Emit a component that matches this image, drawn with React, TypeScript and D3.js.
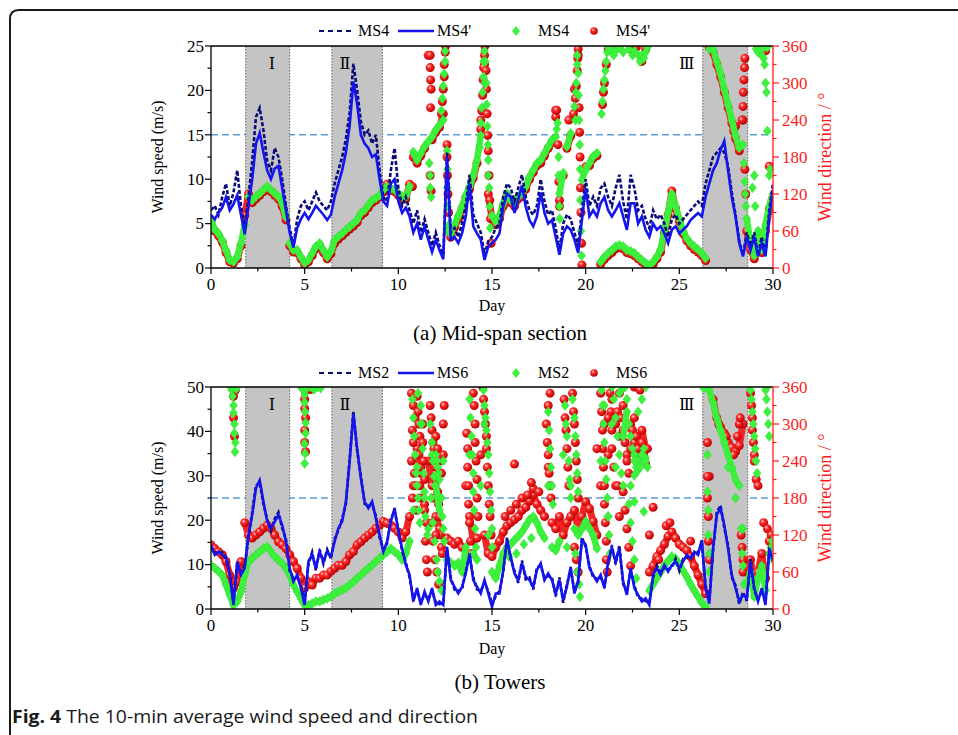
import React from 'react';
import * as d3 from 'd3';

// ---------------- data (10-min averages sampled every 0.2 day) ----------------
const DAYS: number[] = d3.range(151).map((i) => Math.round(i * 2) / 10);

// (a) Mid-span section — wind speed (m/s)
const SPEED_MS4 = [
  6.5, 7, 6, 8, 9.5, 7, 8.5, 11, 7, 4.5,
  8, 12, 17, 18, 15.5, 12, 11, 13.5, 12.5, 10,
  7, 4.5, 2.5, 5.5, 7, 7.5, 6.5, 7.5, 8.5, 7.5,
  7, 6.5, 7.5, 9.5, 11, 12.5, 14.5, 17.5, 23, 20,
  16.5, 15, 15.5, 14, 15, 11, 8, 7.5, 11, 13.5,
  9, 7, 8, 6.5, 5, 6.5, 4, 5.5, 4, 2.5,
  4, 2.5, 1.5, 13, 4, 4.5, 3.5, 5, 7, 10.5,
  6, 5, 4, 1.5, 3, 3.5, 4.5, 5, 8, 9.5,
  9, 7.5, 9, 10.5, 8, 6.5, 6, 7, 10, 7.5,
  6, 6.5, 4.5, 2, 5, 6, 5.5, 4, 2.5, 6.5,
  10, 7, 8, 7, 9, 9.5, 8, 7, 9, 10.5,
  7.5, 5.5, 10.5, 9, 6.5, 7, 5.5, 4.5, 6.5, 5.5,
  6, 5, 3.5, 5.5, 6, 5, 5.5, 6, 6.5, 7,
  7.5, 7, 9.5, 11, 12.5, 13, 13.5, 13, 11.5, 8.5,
  6, 3, 1.5, 4, 2.5, 4, 1.5, 3.5, 1.5, 6.5,
  9.5,
];
const SPEED_MS4P = [
  6, 5.5, 6.2, 6.8, 8, 6.5, 7.2, 8.2, 6, 3.8,
  7, 10, 14, 15.2, 13, 11, 10, 11.2, 11.5, 9,
  6.5, 4, 2.3, 4.5, 5.5, 6.2, 5.5, 6.2, 7, 6.5,
  6, 5.4, 6, 8, 9.5, 11, 13, 16, 21, 18.5,
  15, 14, 13.5, 12.5, 12.8, 10, 7.5, 7, 9.5, 10,
  7.5, 6.2, 6.8, 5.8, 4, 5, 3.2, 4.7, 3.2, 1.8,
  3.2, 2, 1, 12.5, 3.2, 3.5, 2.8, 3.9, 5.8, 9.5,
  4.7, 3.9, 3.2, 0.9, 2.4, 2.8, 3.2, 3.9, 6.9, 8.4,
  8, 6.2, 7.7, 9.3, 6.9, 5.4, 4.7, 5.8, 8.5, 6.2,
  5, 5.4, 3.5, 1.5, 3.9, 4.7, 4.3, 3.2, 1.7, 5.4,
  9, 5.8, 6.5, 5.8, 7.3, 8, 6.5, 5.8, 6.5, 7.3,
  5.8, 4.3, 7.3, 7.3, 5, 5.8, 4.3, 3.5, 5, 4.3,
  4.7, 3.9, 2.8, 4.3, 4.7, 3.9, 4.3, 4.7, 5.4, 5.8,
  6.2, 5.8, 8, 9.5, 11, 11.8, 13.3, 14.3, 11, 8,
  5.8, 2.8, 1.3, 3.5, 2, 3.5, 1.3, 2.8, 1.3, 5.8,
  8.8,
];
// (a) wind direction (deg)
const DIR_MS4 = [
  78, 62, 56, 45, 29, 13, 10, 18, 40, 70,
  116, 110, 116, 121, 127, 132, 127, 121, 116, 105,
  83, 40, 29, 29, 18, 8, 13, 24, 35, 40,
  29, 18, 27, 45, 51, 56, 62, 67, 72, 78,
  89, 94, 102, 110, 113, 118, 127, 132, 129, 127,
  121, 116, 116, 132, 188, 175, 186, 197, 205, 213,
  224, 232, 240, 60, 56, 70, 85, 100, 118, 132,
  150, 175, 215, 300, 150, 85, 75, 85, 105, 121,
  110, 105, 116, 121, 132, 148, 159, 170, 175, 186,
  197, 208, 213, 121, 154, 197, 218, 262, 316, 143,
  159, 170, 181, 186, 10, 18, 24, 29, 35, 37,
  35, 29, 27, 24, 18, 13, 8, 4, 10, 18,
  30, 60, 90, 120, 100, 80, 60, 48, 40, 35,
  30, 24, 16, 355, 355, 335, 315, 290, 265, 240,
  215, 195, 200, 80, 40, 20, 60, 30, 70, 100,
  120,
];
const DIR_MS4P = [
  75, 60, 52, 42, 25, 10, 8, 15, 36, 85,
  120, 106, 112, 118, 124, 128, 124, 118, 112, 100,
  78, 36, 26, 25, 15, 5, 10, 20, 31, 36,
  25, 15, 23, 40, 47, 52, 58, 63, 68, 74,
  85, 90, 98, 106, 110, 115, 123, 136, 126, 124,
  118, 112, 112, 136, 180, 170, 182, 194, 345, 208,
  220, 228, 250, 200, 50, 66, 80, 96, 114, 128,
  146, 170, 240, 330, 120, 80, 70, 80, 100, 116,
  106, 100, 112, 116, 128, 144, 155, 166, 170, 182,
  194, 204, 256, 100, 150, 194, 214, 290, 345, 5,
  164, 166, 178, 182, 6, 14, 20, 25, 31, 33,
  31, 25, 23, 20, 15, 10, 5, 2, 6, 15,
  26, 56, 86, 125, 96, 76, 56, 44, 36, 30,
  26, 20, 12, 358, 350, 330, 310, 285, 260, 235,
  210, 190, 240, 60, 30, 15, 50, 25, 60, 95,
  115,
];
// extra (day, deg) samples where the direction wraps around 0/360
const DIR_MS4_EXTRA: [number, number][] = [
  [11.65, 170], [11.7, 150], [11.7, 130], [11.75, 115], [12.3, 255], [12.35, 275], [12.4, 295], [12.45, 315],
  [12.5, 335], [12.5, 352], [12.6, 190], [12.62, 160], [12.62, 130], [12.65, 100], [12.7, 70], [14.35, 195],
  [14.4, 235], [14.45, 260], [14.5, 285], [14.55, 310], [14.55, 335], [14.6, 352], [14.65, 335], [14.7, 300],
  [14.72, 265], [14.75, 230], [14.78, 200], [14.8, 175], [14.85, 130], [14.88, 100], [14.9, 65], [18.45, 225],
  [18.5, 235], [18.55, 180], [18.55, 150], [18.6, 100], [18.62, 80], [19.45, 240], [19.48, 285], [19.5, 300],
  [19.55, 330], [19.55, 345], [19.62, 280], [19.65, 240], [19.68, 200], [19.7, 160], [19.72, 110], [19.75, 60],
  [19.78, 20], [20.85, 250], [20.9, 270], [20.95, 290], [21.0, 305], [21.05, 320], [21.1, 335], [21.15, 350],
  [21.2, 358], [21.3, 355], [21.4, 350], [21.5, 345], [21.6, 352], [21.8, 358], [22.0, 350], [22.3, 355],
  [22.5, 345], [22.6, 352], [22.8, 345], [22.9, 335], [23.0, 345], [23.1, 340], [23.2, 350], [23.3, 358],
  [28.45, 170], [28.5, 140], [28.52, 120], [28.55, 100], [29.1, 355], [29.2, 350], [29.3, 355], [29.4, 345],
  [29.5, 340], [29.55, 330], [29.6, 300], [29.65, 285], [29.7, 222], [29.5, 358], [29.7, 358], [29.8, 150],
  [29.85, 160], [29.9, 110], [28.9, 130], [29.0, 150], [29.05, 100],
];
const DIR_MS4P_EXTRA: [number, number][] = [
  [11.7, 345], [11.7, 325], [11.72, 305], [11.75, 290], [11.72, 260], [11.7, 150], [11.75, 125], [12.3, 250],
  [12.35, 270], [12.4, 290], [12.45, 310], [12.45, 330], [12.5, 350], [12.52, 360], [12.6, 180], [12.62, 150],
  [12.65, 120], [12.68, 90], [12.7, 60], [14.4, 225], [14.45, 255], [14.5, 280], [14.52, 305], [14.55, 325],
  [14.6, 345], [14.62, 360], [14.68, 320], [14.7, 290], [14.74, 250], [14.77, 215], [14.8, 190], [14.84, 150],
  [14.88, 110], [14.92, 80], [14.95, 40], [18.4, 245], [18.45, 256], [18.52, 200], [18.57, 140], [18.6, 110],
  [19.1, 240], [19.35, 250], [19.45, 275], [19.5, 295], [19.55, 320], [19.58, 340], [19.6, 355], [19.65, 260],
  [19.68, 220], [19.7, 180], [19.72, 130], [19.75, 90], [19.78, 40], [20.9, 265], [20.95, 285], [21.0, 300],
  [21.1, 330], [21.2, 355], [21.5, 355], [22.4, 355], [22.7, 358], [23.0, 335], [23.2, 355], [27.9, 222],
  [28.0, 230], [28.35, 240], [28.4, 262], [28.42, 285], [28.45, 305], [28.48, 325], [28.5, 340], [28.5, 160],
  [28.55, 120], [29.2, 358], [29.4, 360], [29.6, 352], [29.8, 165], [10.75, 132],
];

// (b) Towers — wind speed (m/s)
const SPEED_MS2 = [
  14, 12.8, 12.4, 12.8, 11.2, 8.2, 1.5, 10.2, 8.2, 9.8,
  16, 21.8, 27.8, 28.5, 23.5, 20.2, 17.6, 20.3, 21.8, 18.2,
  15.8, 8.6, 6.8, 7.1, 5.3, 1.4, 10.1, 12.8, 8.7, 13.4,
  10.2, 13.4, 11.3, 15.8, 17.7, 20.3, 23.6, 33.8, 44.5, 35.6,
  30, 23.7, 23.3, 23.6, 21, 16.1, 13.5, 14.7, 20.3, 22.1,
  18, 13.1, 10.5, 7.1, 2.3, 4.1, 1.5, 3.3, 2.3, 4.1,
  1.5, 1.1, 1.5, 13.4, 7.1, 4.4, 4.1, 4.4, 8.6, 11.9,
  7.1, 4.4, 4.1, 5.9, 4.1, 1.1, 2.9, 4.1, 8.2, 16.1,
  11.2, 8.6, 5.9, 10.9, 6.7, 7.1, 4.4, 9.4, 9.7, 7.1,
  7.4, 7.1, 2.9, 7.1, 1.4, 5.6, 8.9, 4.1, 5.9, 16.1,
  14, 9.8, 7.1, 6.8, 7.1, 5.3, 10.1, 14.3, 10.1, 14.3,
  5.6, 3.8, 8.6, 5.3, 2.6, 2.3, 1.8, 1.5, 7.1, 9.8,
  8.3, 9.3, 9, 9.3, 11.3, 8.6, 11.3, 11.6, 12, 12.3,
  12.8, 14.9, 5.3, 1.8, 13.1, 21.8, 23.3, 18.3, 14.3, 7.1,
  5.3, 1.1, 3.8, 1.8, 11.3, 4.1, 2.3, 4.1, 1.5, 13.1,
  11.3,
];
const SPEED_MS6 = [
  14.4, 12.2, 12.9, 12.2, 11.8, 7.7, 0.9, 10.7, 7.7, 9.2,
  16.7, 21.2, 27.2, 29, 24.2, 19.7, 18.2, 19.7, 21.2, 18.9,
  15.2, 9.2, 6.2, 7.7, 4.7, 0.9, 10.7, 12.2, 9.2, 12.9,
  10.7, 12.9, 11.8, 15.2, 18.2, 19.7, 24.2, 33.2, 44, 36.2,
  29.4, 24.2, 22.7, 24.2, 20.4, 16.7, 12.9, 15.2, 19.7, 22.7,
  17.4, 13.7, 9.9, 7.7, 1.7, 4.7, 0.9, 3.9, 1.7, 4.7,
  0.9, 1.7, 0.9, 14, 6.5, 5, 3.5, 5, 8, 12.5,
  6.5, 5, 3.5, 6.5, 3.5, 0.5, 3.5, 3.5, 8.8, 15.5,
  11.8, 8, 6.5, 10.3, 7.3, 6.5, 5, 8.8, 10.3, 6.5,
  8, 6.5, 3.5, 6.5, 2, 5, 9.5, 3.5, 6.5, 15.5,
  14.5, 9.2, 7.7, 6.2, 7.7, 4.7, 10.7, 13.7, 10.7, 13.7,
  6.2, 3.2, 9.2, 4.7, 3.2, 1.7, 2.4, 0.9, 7.7, 9.2,
  7.7, 9.9, 8.4, 9.9, 10.7, 9.2, 10.7, 12.2, 11.4, 12.9,
  12.2, 15.5, 4.7, 1.2, 13.7, 21.2, 22.7, 18.9, 13.7, 7.7,
  4.7, 1.7, 3.2, 2.4, 10.7, 4.7, 1.7, 4.7, 0.9, 13.7,
  10.7,
];
// (b) wind direction (deg)
const DIR_MS2 = [
  71, 66, 61, 55, 39, 23, 6, 12, 28, 55,
  77, 82, 88, 93, 98, 101, 93, 85, 79, 74,
  66, 55, 39, 28, 17, 6, 6, 9, 12, 12,
  15, 17, 20, 25, 28, 31, 34, 39, 44, 50,
  55, 61, 66, 71, 77, 82, 88, 93, 98, 93,
  88, 80, 90, 110, 160, 230, 300, 190, 130, 250,
  200, 160, 240, 80, 75, 70, 75, 60, 100, 250,
  90, 80, 200, 300, 120, 60, 50, 70, 90, 100,
  105, 112, 118, 125, 135, 145, 150, 140, 125, 115,
  200, 100, 95, 110, 250, 100, 200, 130, 120, 130,
  142, 131, 120, 98, 240, 330, 150, 300, 230, 350,
  280, 320, 200, 250, 240, 235, 245, 30, 40, 50,
  60, 70, 78, 85, 82, 72, 62, 52, 40, 30,
  20, 10, 4, 355, 335, 310, 290, 270, 250, 230,
  210, 200, 130, 40, 60, 20, 50, 70, 30, 90,
  80,
];
const DIR_MS6 = [
  104, 98, 93, 88, 77, 55, 34, 44, 77, 140,
  120, 115, 120, 125, 131, 136, 131, 120, 109, 104,
  98, 88, 77, 66, 50, 34, 44, 39, 50, 50,
  55, 55, 61, 66, 71, 71, 77, 88, 93, 104,
  109, 115, 120, 125, 131, 136, 142, 139, 136, 131,
  125, 115, 125, 150, 200, 260, 220, 170, 240, 200,
  150, 130, 250, 115, 110, 105, 110, 100, 200, 150,
  110, 115, 250, 120, 90, 85, 100, 110, 125, 135,
  140, 145, 150, 160, 165, 175, 185, 170, 160, 150,
  230, 140, 130, 150, 120, 140, 150, 160, 130, 150,
  174, 163, 142, 120, 200, 300, 250, 340, 200, 280,
  330, 250, 300, 270, 250, 290, 260, 60, 70, 85,
  95, 105, 118, 125, 115, 105, 100, 95, 85, 70,
  55, 40, 25, 215, 340, 310, 295, 285, 270, 262,
  255, 265, 300, 60, 80, 40, 60, 90, 50, 110,
  100,
];
const DIR_MS2_EXTRA: [number, number][] = [
  [1.1, 355], [1.15, 345], [1.2, 330], [1.2, 318], [1.25, 300], [1.25, 285], [1.3, 270], [1.28, 255], [1.3, 360],
  [1.35, 357], [1.05, 360], [4.8, 360], [4.9, 356], [5.0, 348], [5.0, 335], [5.02, 320], [5.05, 302], [5.05, 285],
  [5.0, 268], [5.02, 252], [5.0, 236], [5.1, 358], [5.3, 360], [5.5, 356], [5.7, 360], [5.85, 358],
  [10.75, 340], [10.8, 310], [10.85, 280], [10.9, 250], [10.95, 220], [11.0, 200], [11.05, 180], [11.1, 160],
  [11.15, 140], [11.05, 350], [11.2, 330], [11.25, 300], [11.3, 260], [11.35, 220], [11.4, 180], [11.45, 150],
  [11.55, 120], [11.7, 300], [11.8, 270], [11.85, 240], [11.9, 215], [11.95, 200], [12.0, 250], [12.05, 240],
  [12.1, 230], [12.15, 220], [12.2, 210], [12.3, 180], [12.35, 150], [12.4, 130], [12.45, 110], [11.75, 180],
  [11.85, 140], [11.95, 110], [12.05, 80], [12.1, 60], [12.2, 45], [12.3, 30], [13.8, 340], [13.85, 310],
  [13.9, 280], [13.95, 250], [14.0, 220], [14.0, 190], [14.05, 160], [14.1, 130], [14.15, 100], [14.55, 355],
  [14.6, 330], [14.65, 310], [14.7, 290], [14.75, 270], [14.8, 250], [14.85, 220], [14.9, 190], [14.95, 160],
  [15.0, 130], [15.0, 100], [15.9, 85], [16.3, 90], [16.7, 105], [17.1, 115], [18.0, 320], [18.05, 290],
  [18.1, 260], [18.15, 230], [18.2, 200], [18.25, 170], [18.9, 330], [18.95, 300], [19.0, 280], [19.1, 240],
  [19.15, 210], [19.2, 180], [19.3, 340], [19.4, 310], [19.45, 280], [19.5, 250], [19.55, 220], [19.6, 190],
  [19.45, 90], [19.55, 60], [19.65, 40], [19.7, 20], [20.85, 355], [20.9, 330], [20.95, 300], [21.0, 270],
  [21.05, 240], [21.1, 210], [21.15, 180], [21.2, 150], [21.25, 120], [21.3, 90], [21.5, 340], [21.6, 310],
  [21.7, 280], [21.8, 250], [21.9, 220], [22.0, 200], [22.1, 360], [22.2, 340], [22.3, 300], [22.4, 280],
  [22.5, 260], [22.6, 240], [22.7, 230], [22.8, 225], [22.9, 230], [23.0, 250], [23.1, 260], [23.2, 240],
  [23.3, 230], [22.3, 170], [22.4, 140], [22.5, 110], [22.6, 80], [22.7, 50], [21.4, 360], [21.9, 355],
  [23.2, 360], [23.0, 340], [22.8, 320], [22.6, 217], [22.6, 174], [23.1, 158], [26.5, 250], [26.5, 190],
  [26.55, 160], [26.55, 120], [26.6, 90], [26.6, 60], [26.3, 358], [26.45, 360], [28.3, 130], [28.35, 90],
  [28.4, 70], [28.45, 40], [28.0, 180], [27.6, 230], [28.8, 355], [28.85, 340], [28.9, 320], [28.95, 300],
  [29.0, 280], [29.05, 260], [29.1, 240], [29.15, 220], [29.6, 355], [29.65, 340], [29.7, 320], [29.75, 300],
  [29.8, 280], [29.7, 360], [29.9, 100], [29.95, 110],
];
const DIR_MS6_EXTRA: [number, number][] = [
  [1.2, 345], [1.2, 310], [1.25, 280], [1.3, 355], [1.15, 360], [5.0, 355], [5.0, 340], [5.0, 325], [5.05, 310],
  [5.0, 290], [5.0, 270], [5.05, 255], [4.95, 360], [5.3, 356], [10.7, 350], [10.8, 330], [10.9, 310],
  [10.75, 290], [10.8, 270], [10.7, 240], [10.85, 220], [10.9, 200], [10.75, 180], [10.95, 160], [11.0, 345],
  [11.05, 320], [11.1, 300], [11.15, 280], [11.1, 250], [11.2, 230], [11.15, 200], [11.2, 180], [11.3, 300],
  [11.3, 270], [11.35, 240], [11.4, 210], [11.4, 160], [11.5, 140], [11.45, 110], [11.5, 80], [11.55, 60],
  [11.7, 330], [11.75, 310], [11.8, 290], [11.85, 270], [11.9, 260], [11.95, 240], [12.0, 230], [12.05, 210],
  [12.1, 190], [12.15, 170], [12.2, 150], [12.25, 120], [12.3, 100], [12.35, 90], [12.0, 280], [12.1, 260],
  [12.2, 240], [12.3, 220], [12.4, 300], [12.45, 330], [11.9, 180], [12.0, 120], [11.8, 140], [11.85, 110],
  [11.95, 80], [12.05, 60], [12.15, 40], [13.65, 285], [13.7, 260], [13.7, 230], [13.75, 200], [13.75, 170],
  [13.8, 140], [13.85, 110], [13.9, 90], [14.0, 350], [14.05, 330], [14.1, 300], [14.1, 270], [14.15, 240],
  [14.2, 210], [14.2, 180], [14.25, 150], [14.5, 360], [14.55, 340], [14.6, 320], [14.65, 300], [14.7, 280],
  [14.7, 260], [14.75, 230], [14.8, 200], [14.85, 170], [14.9, 150], [14.95, 120], [15.7, 150], [16.0, 160],
  [16.3, 170], [16.6, 180], [16.9, 185], [17.2, 195], [17.5, 190], [16.2, 235], [17.1, 205], [17.9, 300],
  [17.95, 270], [18.0, 250], [18.05, 220], [18.1, 200], [18.15, 180], [18.0, 330], [18.1, 350], [18.85, 340],
  [18.9, 310], [18.95, 290], [19.0, 260], [19.05, 230], [19.1, 200], [19.3, 350], [19.35, 320], [19.4, 300],
  [19.45, 270], [19.5, 240], [19.55, 210], [19.6, 180], [19.4, 100], [19.5, 80], [19.6, 60], [20.8, 350],
  [20.85, 320], [20.9, 290], [20.9, 260], [20.95, 230], [21.0, 200], [21.0, 170], [21.05, 140], [21.1, 110],
  [21.1, 80], [21.15, 60], [21.3, 350], [21.35, 320], [21.4, 290], [21.4, 260], [21.5, 230], [21.6, 300],
  [21.7, 320], [21.8, 350], [21.9, 310], [22.0, 290], [22.1, 270], [22.2, 240], [22.3, 220], [22.4, 260],
  [22.5, 290], [22.6, 310], [22.7, 280], [22.8, 260], [22.9, 240], [23.0, 270], [23.1, 250], [23.2, 235],
  [23.3, 260], [22.0, 190], [22.1, 160], [22.2, 130], [22.3, 100], [22.4, 70], [21.2, 310], [21.7, 200],
  [21.8, 150], [23.4, 120], [22.6, 360], [22.9, 355], [20.6, 260], [23.6, 165], [23.9, 80], [24.3, 135],
  [24.5, 140], [25.6, 110], [26.5, 270], [26.5, 215], [26.5, 180], [26.55, 150], [26.55, 110], [26.6, 80],
  [27.1, 300], [27.5, 280], [27.9, 250], [28.1, 280], [28.2, 300], [28.25, 310], [28.3, 120], [28.35, 100],
  [28.4, 80], [28.4, 60], [28.8, 350], [28.85, 330], [28.9, 310], [28.9, 290], [28.95, 270], [29.0, 250],
  [29.0, 240], [29.1, 210], [29.2, 200], [29.5, 140], [29.7, 130], [29.9, 120], [29.95, 100],
];

// axes / annotations
const X_TICKS = [0, 5, 10, 15, 20, 25, 30];
const X_MINOR = [2.5, 7.5, 12.5, 17.5, 22.5, 27.5];
const DIR_TICKS = [0, 60, 120, 180, 240, 300, 360];
const DIR_MINOR = [30, 90, 150, 210, 270, 330];
const SPEED_TICKS_A = [0, 5, 10, 15, 20, 25];
const SPEED_MINOR_A = [2.5, 7.5, 12.5, 17.5, 22.5];
const SPEED_TICKS_B = [0, 10, 20, 30, 40, 50];
const SPEED_MINOR_B = [5, 15, 25, 35, 45];
const SHADED: [number, number][] = [[1.85, 4.2], [6.45, 9.15], [26.25, 28.65]];
const SHADED_LABELS = ['Ⅰ', 'Ⅱ', 'Ⅲ'];
const SHADED_LABEL_DAY = [3.25, 7.15, 25.4];

// ---------------- drawing ----------------
type Pt = [number, number];
const X0 = 211;
const X1 = 773;
const SERIF = "'Liberation Serif', 'Times New Roman', 'DejaVu Serif', serif";
const RED = '#ff1a1a';
const GREEN = '#3cf23c';

interface PanelProps {
  id: string;
  top: number;
  bottom: number;
  vmax: number;
  vTicks: number[];
  vMinor: number[];
  thresh: number;
  dash: number[];
  solid: number[];
  dirG: number[];
  dirR: number[];
  extraG: Pt[];
  extraR: Pt[];
  names: string[];
  legendY: number;
  dayY: number;
  subtitle: string;
  subtitleY: number;
}

const diamond = 'M0,-5L4,0L0,5L-4,0Z';

// split a direction series into continuous runs (no wrap-around jumps)
function runs(vals: number[]): Pt[][] {
  const out: Pt[][] = [];
  let cur: Pt[] = [];
  vals.forEach((v, i) => {
    if (i > 0 && Math.abs(v - vals[i - 1]) > 40) {
      out.push(cur);
      cur = [];
    }
    cur.push([DAYS[i], v]);
  });
  out.push(cur);
  return out;
}

function Panel(p: PanelProps) {
  const x = d3.scaleLinear().domain([0, 30]).range([X0, X1]);
  const ys = d3.scaleLinear().domain([0, p.vmax]).range([p.bottom, p.top]);
  const yd = d3.scaleLinear().domain([0, 360]).range([p.bottom, p.top]);
  const line = d3
    .line<number>()
    .x((_, i) => x(DAYS[i]))
    .y((d) => ys(d));
  const band = d3
    .line<Pt>()
    .x((d) => x(d[0]))
    .y((d) => yd(d[1]));
  const g: Pt[] = p.dirG.map((d, i) => [DAYS[i], d] as Pt).concat(p.extraG);
  const r: Pt[] = p.dirR.map((d, i) => [DAYS[i], d] as Pt).concat(p.extraR);
  const clip = `clip-${p.id}`;
  const ly = p.legendY;
  return (
    <g>
      <defs>
        <clipPath id={clip}>
          <rect x={X0} y={p.top} width={X1 - X0} height={p.bottom - p.top} />
        </clipPath>
      </defs>
      {/* threshold */}
      <line x1={X0} x2={X1} y1={ys(p.thresh)} y2={ys(p.thresh)} stroke="#5b9bd5" strokeWidth={1.6} strokeDasharray="7,4" />
      {/* shaded periods */}
      {SHADED.map(([a, b], i) => (
        <g key={i}>
          <rect x={x(a)} y={p.top} width={x(b) - x(a)} height={p.bottom - p.top} fill="#c4c4c4" />
          <line x1={x(a)} x2={x(a)} y1={p.top} y2={p.bottom} stroke="#666" strokeWidth={1} strokeDasharray="1.5,1.5" />
          <line x1={x(b)} x2={x(b)} y1={p.top} y2={p.bottom} stroke="#666" strokeWidth={1} strokeDasharray="1.5,1.5" />
        </g>
      ))}
      <g clipPath={`url(#${clip})`}>
        {runs(p.dirR).map((seg, i) =>
          seg.length > 1 ? (
            <path key={'rb' + i} d={band(seg) || ''} fill="none" stroke="#f22424" strokeWidth={7} strokeLinejoin="round" strokeLinecap="round" />
          ) : null
        )}
        {r.map(([d, v], i) => (
          <circle key={'r' + i} cx={x(d)} cy={yd(v)} r={4.5} fill="url(#ball)" />
        ))}
        {runs(p.dirG).map((seg, i) =>
          seg.length > 1 ? (
            <path key={'gb' + i} d={band(seg) || ''} fill="none" stroke={GREEN} strokeWidth={6.5} strokeLinejoin="round" strokeLinecap="round" />
          ) : null
        )}
        {g.map(([d, v], i) => (
          <path key={'g' + i} d={diamond} transform={`translate(${x(d)},${yd(v)})`} fill={GREEN} stroke="#32d432" strokeWidth={0.4} />
        ))}
        <path d={line(p.dash) || ''} fill="none" stroke="#0a0a78" strokeWidth={2.6} strokeDasharray="4,2" />
        <path d={line(p.solid) || ''} fill="none" stroke="#1414f0" strokeWidth={2.6} />
      </g>
      {SHADED_LABELS.map((t, i) => (
        <text key={t} x={x(SHADED_LABEL_DAY[i])} y={p.top + 23} textAnchor="middle" fontFamily={SERIF} fontSize={16}>
          {t}
        </text>
      ))}
      {/* frame */}
      <line x1={X0} x2={X1} y1={p.top} y2={p.top} stroke="#000" strokeWidth={1.3} />
      <line x1={X0} x2={X1} y1={p.bottom} y2={p.bottom} stroke="#000" strokeWidth={1.3} />
      <line x1={X0} x2={X0} y1={p.top} y2={p.bottom} stroke="#000" strokeWidth={1.3} />
      <line x1={X1} x2={X1} y1={p.top} y2={p.bottom} stroke={RED} strokeWidth={1.3} />
      {/* x axis */}
      {X_TICKS.map((t) => (
        <g key={'xt' + t}>
          <line x1={x(t)} x2={x(t)} y1={p.bottom} y2={p.bottom + 6} stroke="#000" strokeWidth={1.2} />
          <text x={x(t)} y={p.bottom + 22} textAnchor="middle" fontFamily={SERIF} fontSize={17}>
            {t}
          </text>
        </g>
      ))}
      {X_MINOR.map((t) => (
        <line key={'xm' + t} x1={x(t)} x2={x(t)} y1={p.bottom} y2={p.bottom + 3.5} stroke="#000" strokeWidth={1.2} />
      ))}
      <text x={(X0 + X1) / 2} y={p.dayY} textAnchor="middle" fontFamily={SERIF} fontSize={16}>
        Day
      </text>
      {/* left axis */}
      {p.vTicks.map((t) => (
        <g key={'yt' + t}>
          <line x1={X0 - 6} x2={X0} y1={ys(t)} y2={ys(t)} stroke="#000" strokeWidth={1.2} />
          <text x={X0 - 7} y={ys(t)} dy="0.34em" textAnchor="end" fontFamily={SERIF} fontSize={17}>
            {t}
          </text>
        </g>
      ))}
      {p.vMinor.map((t) => (
        <line key={'ym' + t} x1={X0 - 3.5} x2={X0} y1={ys(t)} y2={ys(t)} stroke="#000" strokeWidth={1.2} />
      ))}
      <text
        transform={`translate(158,${(p.top + p.bottom) / 2}) rotate(-90)`}
        dy="0.34em"
        textAnchor="middle"
        fontFamily={SERIF}
        fontSize={16}
      >
        Wind speed (m/s)
      </text>
      {/* right axis */}
      {DIR_TICKS.map((t) => (
        <g key={'rt' + t}>
          <line x1={X1} x2={X1 + 6} y1={yd(t)} y2={yd(t)} stroke={RED} strokeWidth={1.2} />
          <text x={X1 + 9} y={yd(t)} dy="0.34em" fontFamily={SERIF} fontSize={17} fill={RED}>
            {t}
          </text>
        </g>
      ))}
      {DIR_MINOR.map((t) => (
        <line key={'rm' + t} x1={X1} x2={X1 + 3.5} y1={yd(t)} y2={yd(t)} stroke={RED} strokeWidth={1.2} />
      ))}
      <text
        transform={`translate(825,${(p.top + p.bottom) / 2}) rotate(-90)`}
        dy="0.34em"
        textAnchor="middle"
        fontFamily={SERIF}
        fontSize={18}
        fill={RED}
      >
        Wind direction / °
      </text>
      {/* legend */}
      <line x1={319} x2={352} y1={ly} y2={ly} stroke="#0a0a78" strokeWidth={2} strokeDasharray="5,4" />
      <text x={358} y={ly} dy="0.34em" fontFamily={SERIF} fontSize={16}>
        {p.names[0]}
      </text>
      <line x1={398} x2={434} y1={ly} y2={ly} stroke="#1414f0" strokeWidth={2.5} />
      <text x={437} y={ly} dy="0.34em" fontFamily={SERIF} fontSize={16}>
        {p.names[1]}
      </text>
      <path d={diamond} transform={`translate(516,${ly})`} fill={GREEN} />
      <text x={538} y={ly} dy="0.34em" fontFamily={SERIF} fontSize={16}>
        {p.names[2]}
      </text>
      <circle cx={594} cy={ly} r={3.8} fill="url(#ball)" />
      <text x={616} y={ly} dy="0.34em" fontFamily={SERIF} fontSize={16}>
        {p.names[3]}
      </text>
      <text x={500} y={p.subtitleY} textAnchor="middle" fontFamily={SERIF} fontSize={21}>
        {p.subtitle}
      </text>
    </g>
  );
}

export default function App() {
  return (
    <svg
      width={958}
      height={735}
      viewBox="0 0 958 735"
      style={{ position: 'absolute', left: 0, top: 0, background: '#fff' }}
    >
      <defs>
        <radialGradient id="ball" cx="0.38" cy="0.35" r="0.65">
          <stop offset="0" stopColor="#ffd6d6" />
          <stop offset="0.35" stopColor="#ff2a2a" />
          <stop offset="1" stopColor="#b80000" />
        </radialGradient>
      </defs>
      <rect x={0} y={0} width={958} height={735} fill="#fff" />
      <path d="M10,735 V19 Q10,10 19,10 H958" fill="none" stroke="#1a1a1a" strokeWidth={2} />
      <Panel
        id="a"
        top={46}
        bottom={268}
        vmax={25}
        vTicks={SPEED_TICKS_A}
        vMinor={SPEED_MINOR_A}
        thresh={15}
        dash={SPEED_MS4}
        solid={SPEED_MS4P}
        dirG={DIR_MS4}
        dirR={DIR_MS4P}
        extraG={DIR_MS4_EXTRA}
        extraR={DIR_MS4P_EXTRA}
        names={['MS4', "MS4'", 'MS4', "MS4'"]}
        legendY={31}
        dayY={311}
        subtitle="(a) Mid-span section"
        subtitleY={340}
      />
      <Panel
        id="b"
        top={387}
        bottom={609}
        vmax={50}
        vTicks={SPEED_TICKS_B}
        vMinor={SPEED_MINOR_B}
        thresh={25}
        dash={SPEED_MS2}
        solid={SPEED_MS6}
        dirG={DIR_MS2}
        dirR={DIR_MS6}
        extraG={DIR_MS2_EXTRA}
        extraR={DIR_MS6_EXTRA}
        names={['MS2', 'MS6', 'MS2', 'MS6']}
        legendY={373}
        dayY={654}
        subtitle="(b) Towers"
        subtitleY={689}
      />
      <text
        x={12}
        y={723}
        fontFamily="'Open Sans', sans-serif"
        fontSize={18}
        fill="#1a1a1a"
        textLength={466}
        lengthAdjust="spacingAndGlyphs"
      >
        <tspan fontWeight="bold">Fig. 4</tspan> The 10-min average wind speed and direction
      </text>
    </svg>
  );
}
